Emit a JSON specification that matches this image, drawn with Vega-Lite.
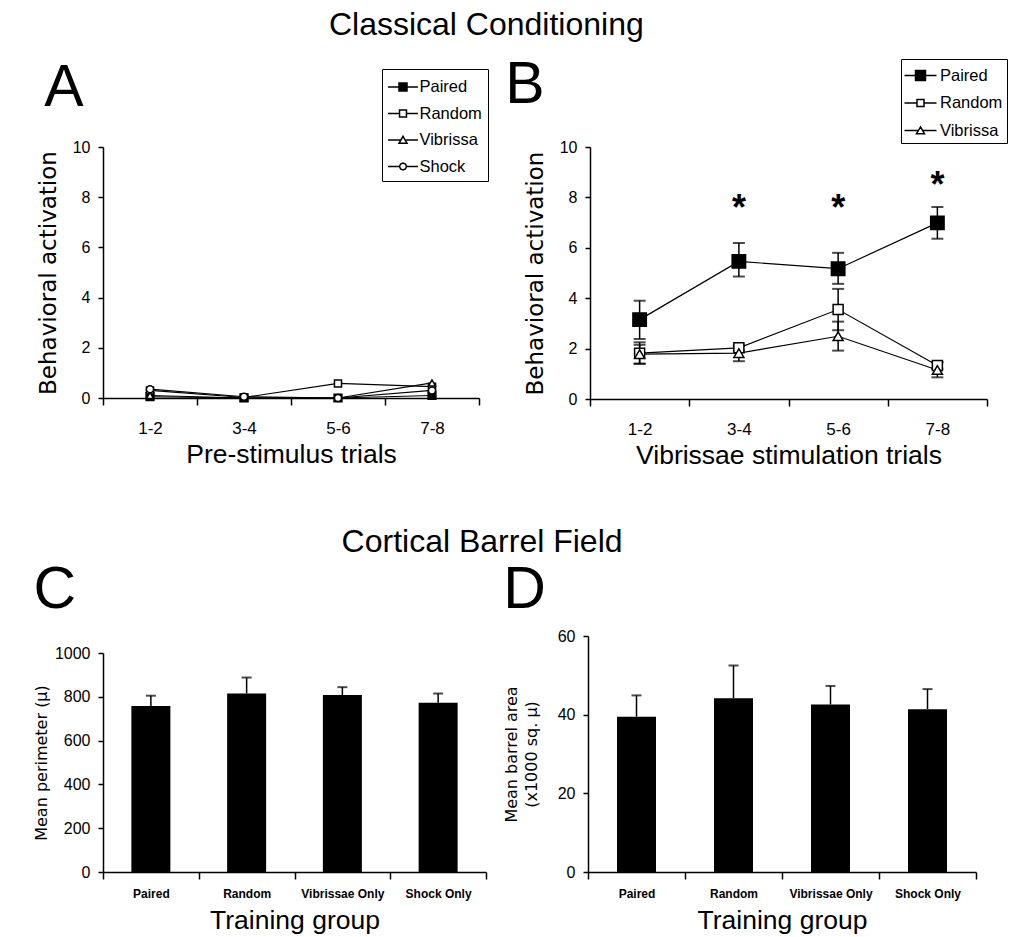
{
  "$schema": "https://vega.github.io/schema/vega-lite/v6.json",
  "background": "white",
  "padding": {"left": 33, "top": 8, "right": 5, "bottom": 0},
  "config": {
    "view": {"stroke": null},
    "font": "Liberation Sans",
    "axis": {
      "domainColor": "black", "domainWidth": 1.5, "tickColor": "black", "tickWidth": 1.5,
      "labelColor": "black", "titleColor": "black", "grid": false,
      "labelFont": "Liberation Sans", "titleFontWeight": "normal"
    },
    "axisY": {"tickSize": 5, "labelFontSize": 16, "labelPadding": 8, "titleFont": "DejaVu Sans", "titleFontSize": 23, "titlePadding": 12},
    "axisX": {"tickSize": 7, "labelFontSize": 17, "labelPadding": 15, "labelAngle": 0, "titleFont": "Liberation Sans", "titleFontSize": 26.5, "titlePadding": 5, "tickBand": "extent"},
    "title": {"font": "Liberation Sans", "fontWeight": "normal", "color": "black"}
  },
  "resolve": {"scale": {"shape": "independent", "fill": "independent"}, "legend": {"shape": "independent", "fill": "independent"}},
  "vconcat": [
    {
      "title": {"text": "Classical Conditioning", "fontSize": 32, "baseline": "alphabetic", "offset": -11, "anchor": "middle", "dx": -36},
      "resolve": {"scale": {"shape": "independent", "fill": "independent"}, "legend": {"shape": "independent", "fill": "independent"}},
      "concat": [
        {
          "width": 376, "height": 251,
          "title": {"text": "A", "fontSize": 59, "anchor": "start", "frame": "bounds", "baseline": "alphabetic", "offset": -96, "dx": 7},
          "data": {"values": [
            {"trial": "1-2", "group": "Paired", "value": 0.05},
            {"trial": "3-4", "group": "Paired", "value": 0.0},
            {"trial": "5-6", "group": "Paired", "value": 0.0},
            {"trial": "7-8", "group": "Paired", "value": 0.1},
            {"trial": "1-2", "group": "Random", "value": 0.3},
            {"trial": "3-4", "group": "Random", "value": 0.02},
            {"trial": "5-6", "group": "Random", "value": 0.58},
            {"trial": "7-8", "group": "Random", "value": 0.45},
            {"trial": "1-2", "group": "Vibrissa", "value": 0.1},
            {"trial": "3-4", "group": "Vibrissa", "value": 0.0},
            {"trial": "5-6", "group": "Vibrissa", "value": 0.0},
            {"trial": "7-8", "group": "Vibrissa", "value": 0.6},
            {"trial": "1-2", "group": "Shock", "value": 0.35},
            {"trial": "3-4", "group": "Shock", "value": 0.05},
            {"trial": "5-6", "group": "Shock", "value": 0.0},
            {"trial": "7-8", "group": "Shock", "value": 0.3}
          ]},
          "encoding": {
            "x": {"field": "trial", "type": "nominal", "sort": ["1-2", "3-4", "5-6", "7-8"],
                  "scale": {"type": "band", "paddingInner": 0, "paddingOuter": 0},
                  "axis": {"title": "Pre-stimulus trials"}},
            "y": {"field": "value", "type": "quantitative", "scale": {"domain": [0, 10]},
                  "axis": {"title": "Behavioral activation", "values": [0, 2, 4, 6, 8, 10]}}
          },
          "layer": [
            {"mark": {"type": "line", "color": "black", "strokeWidth": 1.2}, "encoding": {"detail": {"field": "group"}}},
            {"mark": {"type": "point", "filled": true, "stroke": "black", "strokeWidth": 1.5, "opacity": 1},
             "encoding": {
               "shape": {"condition": [{"test": "datum.group === 'Vibrissa'", "value": "triangle-up"}, {"test": "datum.group === 'Shock'", "value": "circle"}], "value": "square"},
               "fill": {"condition": {"test": "datum.group === 'Paired'", "value": "black"}, "value": "white"},
               "size": {"condition": {"test": "datum.group === 'Paired'", "value": 60}, "value": 50}
             }},
            {"transform": [{"filter": "false"}],
             "mark": {"type": "point", "filled": true, "stroke": "black", "strokeWidth": 1.5},
             "encoding": {
               "shape": {"field": "group", "type": "nominal",
                 "scale": {"domain": ["Paired", "Random", "Vibrissa", "Shock"], "range": [
                   "M-1.38,0H-0.37M0.37,0H1.38M-0.37,-0.37H0.37V0.37H-0.37Z",
                   "M-1.38,0H-0.32M0.32,0H1.38M-0.32,-0.32H0.32V0.32H-0.32Z",
                   "M-1.38,0H-0.2M0.2,0H1.38M0,-0.34L0.37,0.3H-0.37Z",
                   "M-1.38,0H-0.32M0.32,0H1.38M0.32,0L0.226,0.226L0,0.32L-0.226,0.226L-0.32,0L-0.226,-0.226L0,-0.32L0.226,-0.226Z"]},
                 "legend": {
                   "title": null, "orient": "none", "legendX": 279, "legendY": -78,
                   "strokeColor": "black", "padding": 6, "rowPadding": 5.5, "symbolSize": 471, "symbolOffset": 3,
                   "labelFont": "Liberation Sans", "labelFontSize": 16.5, "labelColor": "black", "labelOffset": 4.5,
                   "symbolStrokeColor": "black", "symbolStrokeWidth": 1.5, "symbolOpacity": 1,
                   "encode": {"legend": {"strokeWidth": {"value": 1.5}}}
                 }},
               "fill": {"field": "group", "type": "nominal",
                 "scale": {"domain": ["Paired", "Random", "Vibrissa", "Shock"], "range": ["black", "white", "white", "white"]},
                 "legend": {
                   "title": null, "orient": "none", "legendX": 279, "legendY": -78,
                   "strokeColor": "black", "padding": 6, "rowPadding": 5.5, "symbolSize": 471, "symbolOffset": 3,
                   "labelFont": "Liberation Sans", "labelFontSize": 16.5, "labelColor": "black", "labelOffset": 4.5,
                   "symbolStrokeColor": "black", "symbolStrokeWidth": 1.5, "symbolOpacity": 1,
                   "encode": {"legend": {"strokeWidth": {"value": 1.5}}}
                 }}
             }}
          ]
        },
        {
          "width": 397, "height": 252,
          "title": {"text": "B", "fontSize": 59, "anchor": "start", "frame": "bounds", "baseline": "alphabetic", "offset": -103, "dx": -19},
          "data": {"values": [
            {"trial": "1-2", "group": "Paired", "value": 3.15, "lo": 2.38, "hi": 3.9},
            {"trial": "3-4", "group": "Paired", "value": 5.46, "lo": 4.86, "hi": 6.19},
            {"trial": "5-6", "group": "Paired", "value": 5.17, "lo": 4.57, "hi": 5.8},
            {"trial": "7-8", "group": "Paired", "value": 6.99, "lo": 6.36, "hi": 7.62},
            {"trial": "1-2", "group": "Random", "value": 1.82, "lo": 1.4, "hi": 2.25},
            {"trial": "3-4", "group": "Random", "value": 2.03, "lo": 1.93, "hi": 2.13},
            {"trial": "5-6", "group": "Random", "value": 3.55, "lo": 2.73, "hi": 4.37},
            {"trial": "7-8", "group": "Random", "value": 1.33, "lo": 1.2, "hi": 1.47},
            {"trial": "1-2", "group": "Vibrissa", "value": 1.78, "lo": 1.4, "hi": 2.15},
            {"trial": "3-4", "group": "Vibrissa", "value": 1.82, "lo": 1.5, "hi": 2.1},
            {"trial": "5-6", "group": "Vibrissa", "value": 2.49, "lo": 1.92, "hi": 3.07},
            {"trial": "7-8", "group": "Vibrissa", "value": 1.15, "lo": 0.86, "hi": 1.45}
          ]},
          "encoding": {
            "x": {"field": "trial", "type": "nominal", "sort": ["1-2", "3-4", "5-6", "7-8"],
                  "scale": {"type": "band", "paddingInner": 0, "paddingOuter": 0},
                  "axis": {"title": "Vibrissae stimulation trials"}},
            "y": {"field": "value", "type": "quantitative", "scale": {"domain": [0, 10]},
                  "axis": {"title": "Behavioral activation", "values": [0, 2, 4, 6, 8, 10]}}
          },
          "layer": [
            {"mark": {"type": "rule", "color": "black", "strokeWidth": 1.5}, "encoding": {"y": {"field": "lo", "type": "quantitative"}, "y2": {"field": "hi"}}},
            {"mark": {"type": "tick", "color": "black", "size": 12, "thickness": 2, "orient": "horizontal"}, "encoding": {"y": {"field": "lo", "type": "quantitative"}}},
            {"mark": {"type": "tick", "color": "black", "size": 12, "thickness": 2, "orient": "horizontal"}, "encoding": {"y": {"field": "hi", "type": "quantitative"}}},
            {"mark": {"type": "line", "color": "black", "strokeWidth": 1.2}, "encoding": {"detail": {"field": "group"}}},
            {"mark": {"type": "point", "filled": true, "stroke": "black", "strokeWidth": 1.5, "opacity": 1},
             "encoding": {
               "shape": {"condition": {"test": "datum.group === 'Vibrissa'", "value": "triangle-up"}, "value": "square"},
               "fill": {"condition": {"test": "datum.group === 'Paired'", "value": "black"}, "value": "white"},
               "size": {"condition": {"test": "datum.group === 'Paired'", "value": 180}, "value": 100}
             }},
            {"transform": [{"filter": "false"}],
             "mark": {"type": "point", "filled": true, "stroke": "black", "strokeWidth": 1.5},
             "encoding": {
               "shape": {"field": "group", "type": "nominal",
                 "scale": {"domain": ["Paired", "Random", "Vibrissa"], "range": ["M-1.41,0H-0.44M0.44,0H1.41M-0.44,-0.44H0.44V0.44H-0.44Z", "M-1.41,0H-0.31M0.31,0H1.41M-0.31,-0.31H0.31V0.31H-0.31Z", "M-1.41,0H-0.2M0.2,0H1.41M0,-0.32L0.35,0.28H-0.35Z"]},
                 "legend": {
                   "title": null, "orient": "none", "legendX": 311, "legendY": -88,
                   "strokeColor": "black", "padding": 4, "rowPadding": 6.5, "symbolSize": 515, "symbolOffset": 3,
                   "labelFont": "Liberation Sans", "labelFontSize": 16.5, "labelColor": "black", "labelOffset": 7,
                   "symbolStrokeColor": "black", "symbolStrokeWidth": 1.5, "symbolOpacity": 1,
                   "encode": {"legend": {"strokeWidth": {"value": 1.5}}}
                 }},
               "fill": {"field": "group", "type": "nominal",
                 "scale": {"domain": ["Paired", "Random", "Vibrissa"], "range": ["black", "white", "white"]},
                 "legend": {
                   "title": null, "orient": "none", "legendX": 311, "legendY": -88,
                   "strokeColor": "black", "padding": 4, "rowPadding": 6.5, "symbolSize": 515, "symbolOffset": 3,
                   "labelFont": "Liberation Sans", "labelFontSize": 16.5, "labelColor": "black", "labelOffset": 7,
                   "symbolStrokeColor": "black", "symbolStrokeWidth": 1.5, "symbolOpacity": 1,
                   "encode": {"legend": {"strokeWidth": {"value": 1.5}}}
                 }}
             }},
            {"data": {"values": [
               {"trial": "3-4", "star": 7.84, "label": "*"},
               {"trial": "5-6", "star": 7.84, "label": "*"},
               {"trial": "7-8", "star": 8.77, "label": "*"}
             ]},
             "mark": {"type": "text", "fontSize": 36, "fontWeight": "bold", "font": "Liberation Sans", "baseline": "middle", "dy": 8, "color": "black"},
             "encoding": {"y": {"field": "star", "type": "quantitative"}, "text": {"field": "label"}}}
          ]
        }
      ],
      "columns": 2,
      "spacing": 16
    },
    {
      "title": {"text": "Cortical Barrel Field", "fontSize": 32, "baseline": "alphabetic", "offset": -23, "anchor": "middle", "dx": -23},
      "concat": [
        {
          "width": 383, "height": 236,
          "title": {"text": "C", "fontSize": 59, "anchor": "start", "frame": "bounds", "baseline": "alphabetic", "offset": -31, "dx": 0},
          "data": {"values": [
            {"group": "Paired", "value": 758, "err": 805},
            {"group": "Random", "value": 815, "err": 888},
            {"group": "Vibrissae Only", "value": 808, "err": 844},
            {"group": "Shock Only", "value": 773, "err": 815}
          ]},
          "encoding": {
            "x": {"field": "group", "type": "nominal", "sort": ["Paired", "Random", "Vibrissae Only", "Shock Only"],
                  "scale": {"type": "band", "paddingInner": 0, "paddingOuter": 0},
                  "axis": {"title": "Training group", "labelFontSize": 12, "labelFontWeight": "bold", "labelPadding": 9, "titlePadding": 8}}
          },
          "layer": [
            {"mark": {"type": "rule", "color": "black", "strokeWidth": 1.5}, "encoding": {"y": {"field": "value", "type": "quantitative"}, "y2": {"field": "err"}}},
            {"mark": {"type": "tick", "color": "black", "size": 10, "thickness": 2, "orient": "horizontal"}, "encoding": {"y": {"field": "err", "type": "quantitative"}}},
            {"mark": {"type": "bar", "color": "black", "size": 39},
             "encoding": {"y": {"field": "value", "type": "quantitative", "scale": {"domain": [0, 1000], "range": [236, 17]},
                                "axis": {"title": "Mean perimeter (µ)", "values": [0, 200, 400, 600, 800, 1000], "format": "d", "titleFontSize": 16, "titlePadding": 5}}}}
          ]
        },
        {
          "width": 388, "height": 236,
          "title": {"text": "D", "fontSize": 59, "anchor": "start", "frame": "bounds", "baseline": "alphabetic", "offset": -39, "dx": 0},
          "data": {"values": [
            {"group": "Paired", "value": 39.5, "err": 44.9},
            {"group": "Random", "value": 44.2, "err": 52.5},
            {"group": "Vibrissae Only", "value": 42.6, "err": 47.3},
            {"group": "Shock Only", "value": 41.4, "err": 46.5}
          ]},
          "encoding": {
            "x": {"field": "group", "type": "nominal", "sort": ["Paired", "Random", "Vibrissae Only", "Shock Only"],
                  "scale": {"type": "band", "paddingInner": 0, "paddingOuter": 0},
                  "axis": {"title": "Training group", "labelFontSize": 12, "labelFontWeight": "bold", "labelPadding": 9, "titlePadding": 8}}
          },
          "layer": [
            {"mark": {"type": "rule", "color": "black", "strokeWidth": 1.5}, "encoding": {"y": {"field": "value", "type": "quantitative"}, "y2": {"field": "err"}}},
            {"mark": {"type": "tick", "color": "black", "size": 10, "thickness": 2, "orient": "horizontal"}, "encoding": {"y": {"field": "err", "type": "quantitative"}}},
            {"mark": {"type": "bar", "color": "black", "size": 39},
             "encoding": {"y": {"field": "value", "type": "quantitative", "scale": {"domain": [0, 60]},
                                "axis": {"title": ["Mean barrel area", "(x1000 sq. µ)"], "values": [0, 10, 20, 30, 40, 50, 60], "titleFontSize": 16, "titleLineHeight": 20, "titlePadding": 18}}}}
          ]
        }
      ],
      "columns": 2,
      "spacing": 16
    }
  ],
  "spacing": 57
}
